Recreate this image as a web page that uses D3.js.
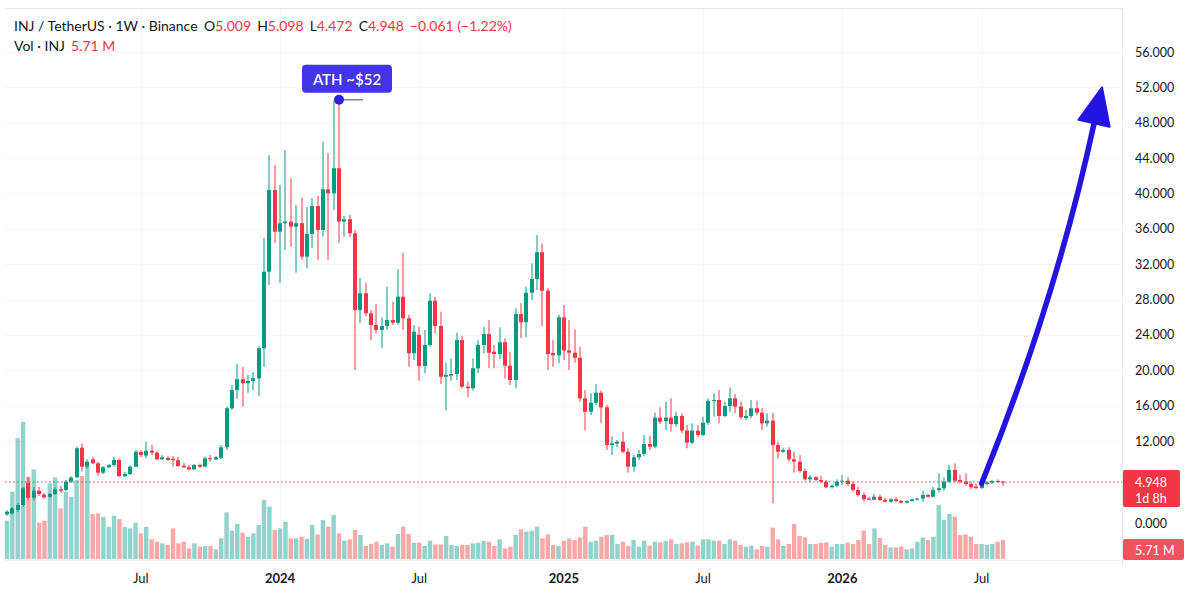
<!DOCTYPE html>
<html>
<head>
<meta charset="utf-8">
<script src="https://cdn.jsdelivr.net/npm/d3@7"></script>
<style>
  html, body { margin: 0; padding: 0; background: #fff; }
  svg { display: block; font-family: Lato, "Open Sans", sans-serif; }
</style>
</head>
<body>
<svg id="chart" width="1200" height="607"></svg>
<script>
// weekly INJ/USDT candles, first bar = week of 9 Jan 2023
const opens = [
  1.05, 1.17, 1.57, 2.17, 4.83, 3.05, 3.90, 3.42, 3.17, 3.50,
  4.07, 3.98, 5.00, 5.76, 10.85, 7.58, 8.85, 8.16, 6.55, 7.48,
  7.87, 8.73, 5.93, 6.32, 7.58, 10.10, 9.50, 10.33, 9.99, 8.85,
  9.08, 8.90, 8.70, 7.75, 7.48, 7.13, 7.87, 7.58, 9.05, 8.85,
  9.10, 10.92, 15.70, 17.77, 18.98, 18.53, 18.80, 19.09, 22.49, 31.15,
  40.39, 35.68, 36.63, 36.81, 36.24, 36.63, 32.85, 35.42, 38.58, 35.87,
  40.47, 40.02, 42.85, 36.81, 37.08, 35.50, 26.82, 28.71, 26.45, 25.12,
  24.56, 25.01, 25.69, 25.38, 28.32, 25.88, 21.92, 24.00, 20.48, 22.86,
  27.87, 25.01, 19.27, 19.40, 19.58, 23.42, 18.14, 17.96, 20.22, 22.86,
  24.10, 22.10, 21.84, 23.17, 20.52, 18.90, 26.37, 25.43, 28.78, 30.33,
  33.35, 29.00, 21.95, 21.70, 25.99, 22.25, 21.99, 21.42, 16.83, 15.31,
  16.33, 17.46, 15.81, 11.31, 11.55, 11.88, 10.16, 7.58, 9.20, 9.76,
  11.48, 11.02, 14.64, 14.25, 14.64, 13.92, 14.83, 13.17, 11.71, 13.17,
  12.68, 14.07, 16.52, 16.64, 14.83, 15.96, 16.83, 15.88, 14.60, 14.83,
  15.70, 15.20, 14.00, 14.30, 11.31, 10.16, 10.45, 8.85, 8.44, 6.84,
  5.41, 5.76, 5.29, 5.00, 4.31, 4.50, 5.00, 5.17, 4.71, 3.98,
  3.38, 2.95, 2.80, 3.17, 2.78, 2.57, 2.86, 2.65, 2.45, 2.65,
  2.86, 2.95, 3.38, 3.17, 3.98, 4.19, 5.00, 7.01, 5.30, 5.05,
  4.71, 4.40, 4.22, 4.70, 4.90, 5.12, 5.009
]
const highs = [
  1.57, 1.93, 2.41, 4.34, 5.81, 4.34, 4.34, 3.62, 3.62, 4.34,
  4.47, 5.29, 5.98, 11.02, 11.60, 8.85, 9.30, 8.44, 7.70, 8.04,
  9.30, 9.02, 6.67, 7.80, 10.45, 10.45, 11.88, 11.31, 10.28, 9.59,
  9.42, 9.42, 9.25, 8.22, 7.87, 8.04, 8.13, 9.25, 9.59, 9.42,
  11.31, 15.88, 18.33, 20.71, 20.37, 19.47, 19.81, 22.75, 34.96, 44.35,
  43.22, 40.96, 44.92, 41.75, 38.70, 39.49, 38.50, 39.49, 39.72, 45.86,
  44.58, 50.50, 50.60, 37.45, 37.57, 35.87, 30.44, 29.91, 26.82, 27.50,
  25.99, 29.46, 27.76, 31.42, 33.30, 26.25, 25.12, 24.93, 24.56, 28.71,
  28.32, 26.63, 20.86, 21.35, 24.25, 23.88, 18.71, 21.35, 23.42, 24.93,
  25.69, 22.86, 24.86, 23.62, 22.10, 27.01, 27.58, 29.46, 32.10, 35.30,
  34.36, 29.27, 23.42, 26.25, 27.38, 25.69, 24.64, 22.67, 17.77, 17.40,
  18.45, 17.69, 16.07, 12.49, 12.11, 13.05, 10.74, 9.59, 10.45, 12.68,
  12.57, 15.20, 15.81, 16.45, 16.83, 15.31, 15.13, 13.81, 14.00, 13.81,
  14.75, 16.83, 17.40, 17.77, 16.45, 18.07, 17.32, 16.45, 15.51, 16.64,
  16.56, 15.70, 15.13, 15.20, 11.88, 10.80, 10.92, 10.16, 9.59, 7.30,
  6.15, 5.98, 5.98, 5.29, 4.65, 5.41, 6.15, 5.76, 5.00, 4.38,
  3.66, 3.14, 3.50, 3.44, 3.02, 2.98, 3.10, 2.78, 2.75, 2.95,
  3.05, 3.90, 3.50, 4.38, 6.44, 5.76, 7.87, 8.16, 6.15, 6.44,
  5.00, 4.79, 4.95, 5.10, 5.30, 5.40, 5.098
]
const lows = [
  0.84, 0.97, 1.33, 1.93, 2.78, 2.78, 3.26, 2.90, 3.02, 3.38,
  3.62, 3.86, 4.83, 5.58, 6.72, 7.30, 8.04, 5.98, 6.32, 7.36,
  7.58, 5.76, 5.76, 6.15, 7.48, 9.25, 9.08, 9.59, 8.73, 8.73,
  8.56, 7.58, 7.53, 7.30, 6.93, 7.01, 7.36, 7.53, 8.44, 8.73,
  8.90, 10.45, 15.51, 16.75, 15.88, 17.43, 17.77, 17.09, 20.37, 29.65,
  34.40, 29.87, 33.61, 33.98, 31.04, 32.48, 31.54, 33.83, 32.48, 35.11,
  32.48, 38.13, 34.40, 35.08, 35.08, 20.03, 25.35, 26.14, 23.42, 24.18,
  22.49, 24.56, 25.12, 25.12, 24.56, 20.40, 21.16, 18.82, 19.66, 22.67,
  24.18, 18.45, 15.51, 18.82, 18.90, 17.96, 16.94, 17.69, 19.66, 21.92,
  20.22, 20.22, 21.24, 19.09, 18.33, 17.96, 23.62, 23.73, 27.95, 29.08,
  25.01, 20.03, 20.40, 20.79, 21.16, 20.03, 20.86, 16.45, 13.24, 14.94,
  16.07, 14.00, 10.45, 9.59, 10.97, 9.88, 6.55, 6.72, 8.73, 9.42,
  10.45, 10.74, 13.92, 13.24, 13.05, 13.62, 12.87, 10.74, 11.48, 12.49,
  12.57, 13.81, 14.75, 14.00, 14.70, 15.31, 15.13, 14.45, 14.38, 14.57,
  14.94, 13.24, 13.62, 2.38, 9.02, 9.94, 8.44, 6.55, 6.55, 5.17,
  5.00, 5.12, 4.79, 4.22, 4.16, 4.31, 4.59, 4.47, 3.78, 3.17,
  2.57, 2.72, 2.78, 2.69, 2.47, 2.45, 2.50, 2.35, 2.35, 2.57,
  2.70, 2.57, 3.05, 3.10, 3.66, 3.90, 4.86, 4.86, 4.79, 4.47,
  4.07, 4.07, 4.10, 4.55, 4.70, 4.85, 4.472
]
const closes = [
  1.36, 1.77, 2.17, 4.20, 3.05, 3.90, 3.50, 3.10, 3.50, 4.07,
  3.90, 5.00, 5.69, 10.74, 7.58, 8.44, 8.16, 6.55, 7.48, 7.87,
  8.73, 5.98, 6.32, 7.58, 10.16, 9.59, 10.33, 9.99, 8.85, 9.20,
  8.73, 8.70, 7.70, 7.48, 7.13, 7.87, 7.58, 9.02, 8.85, 9.20,
  10.92, 15.70, 17.77, 18.98, 18.53, 18.80, 19.09, 22.49, 31.15, 40.39,
  35.68, 36.63, 36.81, 36.24, 36.63, 32.85, 35.42, 38.58, 35.87, 40.47,
  40.02, 42.85, 36.81, 37.08, 35.50, 26.82, 28.71, 26.45, 25.12, 24.56,
  25.01, 25.69, 25.38, 28.32, 25.88, 21.92, 24.36, 20.48, 22.86, 27.87,
  25.01, 19.27, 19.47, 19.58, 23.42, 18.14, 17.96, 20.22, 22.86, 24.10,
  21.99, 21.84, 23.17, 20.52, 18.90, 26.37, 25.43, 28.78, 30.33, 33.35,
  29.00, 21.84, 21.70, 25.99, 22.22, 21.99, 21.42, 16.83, 15.31, 16.33,
  17.46, 15.81, 11.31, 11.60, 11.88, 10.16, 7.58, 9.20, 9.76, 11.48,
  11.02, 14.64, 14.18, 14.64, 13.92, 14.83, 13.17, 11.71, 13.17, 12.68,
  14.07, 16.52, 16.64, 14.83, 15.96, 16.83, 15.88, 14.68, 14.83, 15.70,
  15.20, 14.00, 14.30, 11.31, 10.16, 10.45, 8.85, 8.44, 6.84, 5.41,
  5.76, 5.29, 5.00, 4.31, 4.50, 5.00, 5.17, 4.71, 3.98, 3.38,
  2.86, 2.80, 3.17, 2.78, 2.57, 2.86, 2.65, 2.45, 2.65, 2.86,
  2.95, 3.38, 3.17, 3.98, 4.19, 5.00, 7.01, 5.17, 5.00, 4.71,
  4.31, 4.22, 4.70, 4.90, 5.12, 5.009, 4.948
]
// volume in millions of INJ
const volumes = [
  11.5, 20.2, 36.3, 41.2, 24.7, 26.9, 10.9, 11.5, 22.7, 24.5,
  15.2, 20.2, 18.7, 23.7, 24.9, 27.7, 13.5, 13.7, 12.7, 9.7,
  13.0, 12.0, 9.6, 9.2, 10.9, 7.7, 9.7, 5.9, 5.2, 4.7,
  4.2, 9.2, 4.7, 5.2, 3.2, 4.7, 3.7, 3.9, 3.9, 2.9,
  6.2, 14.0, 8.5, 10.5, 7.9, 6.7, 7.7, 10.2, 17.7, 15.7,
  8.7, 9.2, 11.2, 6.2, 6.2, 6.7, 6.0, 10.2, 7.4, 11.7,
  9.7, 13.2, 7.7, 5.5, 5.9, 8.7, 7.2, 3.9, 4.5, 5.2,
  4.2, 4.7, 3.7, 7.5, 9.7, 7.5, 4.9, 4.9, 3.9, 5.5,
  4.4, 4.4, 6.9, 4.2, 3.9, 4.2, 4.2, 4.7, 4.9, 5.4,
  5.2, 3.9, 5.9, 3.2, 3.7, 7.2, 8.9, 8.2, 8.5, 9.7,
  6.2, 7.4, 4.2, 3.9, 5.5, 6.2, 5.7, 6.5, 9.7, 5.2,
  5.5, 6.7, 7.2, 7.2, 4.5, 5.2, 3.9, 5.7, 3.7, 5.5,
  4.0, 5.2, 5.0, 5.4, 5.9, 4.5, 4.7, 5.0, 5.2, 4.0,
  5.9, 5.9, 5.5, 5.5, 4.5, 5.9, 5.5, 4.2, 3.7, 4.0,
  2.9, 3.9, 3.7, 9.4, 5.9, 3.9, 4.5, 10.5, 6.9, 6.5,
  4.5, 4.5, 4.9, 5.0, 3.7, 4.5, 4.5, 4.9, 4.5, 5.7,
  8.5, 4.5, 9.2, 6.3, 4.2, 3.5, 3.5, 3.7, 2.9, 3.2,
  5.2, 6.4, 5.7, 6.7, 16.2, 11.7, 13.5, 12.7, 7.2, 7.4,
  6.7, 4.5, 4.5, 4.3, 4.5, 5.2, 5.71
]
const yTicks = [0, 12, 16, 20, 24, 28, 32, 36, 40, 44, 48, 52, 56]
const athLabel = "ATH ~$52"
const targetPrice = 52

const width = 1200
const height = 607
const paneLeft = 5
const paneTop = 8
const paneRight = 1122
const paneBottom = 559
const upColor = "#089981"
const downColor = "#f23645"
const textColor = "#131722"

const n = closes.length
const startDate = new Date(Date.UTC(2023, 0, 9))
const dates = d3.range(n).map(i => d3.utcDay.offset(startDate, i * 7))
const last = n - 1
const lastClose = closes[last]

const x = d3.scaleLinear()
    .domain([0, last])
    .range([7, 1003])

// price axis of the screenshot is not uniform below 12, so piecewise
const y = d3.scaleLinear()
    .domain([0, lastClose, 12, 56])
    .range([523, 482, 441, 52])

const yVol = d3.scaleLinear()
    .domain([0, 40])
    .range([paneBottom, paneBottom - 133.2])

const step = x(1) - x(0)
const bodyW = 4
const volW = step * 0.82

const svg = d3.select("#chart")

// grid
const xTicks = d3.range(1, n).filter(i => {
    const m = dates[i].getUTCMonth()
    return m !== dates[i - 1].getUTCMonth() && m % 6 === 0
})
const grid = svg.append("g")
grid.selectAll(".hg")
    .data(yTicks.filter(d => d > 0))
    .join("line")
    .attr("x1", paneLeft).attr("x2", paneRight)
    .attr("y1", d => Math.round(y(d)) + 0.5).attr("y2", d => Math.round(y(d)) + 0.5)
    .attr("stroke", "#f6f7f9")
grid.selectAll(".vg")
    .data(xTicks)
    .join("line")
    .attr("x1", i => Math.round(x(i)) + 0.5).attr("x2", i => Math.round(x(i)) + 0.5)
    .attr("y1", paneTop).attr("y2", paneBottom)
    .attr("stroke", "#f6f7f9")

// pane frame
svg.append("line")
    .attr("x1", paneLeft).attr("x2", paneRight)
    .attr("y1", paneTop + 0.5).attr("y2", paneTop + 0.5)
    .attr("stroke", "#e6e8ee")
svg.append("line")
    .attr("x1", paneRight + 0.5).attr("x2", paneRight + 0.5)
    .attr("y1", paneTop).attr("y2", 566)
    .attr("stroke", "#e6e8ee")
svg.append("line")
    .attr("x1", paneLeft).attr("x2", paneRight)
    .attr("y1", paneBottom + 1.5).attr("y2", paneBottom + 1.5)
    .attr("stroke", "#eceef2")

// volume
svg.append("g")
    .selectAll("rect")
    .data(d3.range(n))
    .join("rect")
    .attr("x", i => x(i) - volW / 2)
    .attr("y", i => yVol(volumes[i]))
    .attr("width", volW)
    .attr("height", i => paneBottom - yVol(volumes[i]))
    .attr("fill", i => closes[i] >= opens[i] ? "#26a69a" : "#ef5350")
    .attr("fill-opacity", 0.5)

// last price line
svg.append("line")
    .attr("x1", paneLeft).attr("x2", paneRight)
    .attr("y1", y(lastClose)).attr("y2", y(lastClose))
    .attr("stroke", downColor)
    .attr("stroke-width", 1)
    .attr("stroke-dasharray", "1.5,2.5")

// candles
const candles = svg.append("g")
const colorOf = i => closes[i] >= opens[i] ? upColor : downColor
candles.selectAll("line")
    .data(d3.range(n))
    .join("line")
    .attr("x1", i => Math.round(x(i) - bodyW / 2) + bodyW / 2)
    .attr("x2", i => Math.round(x(i) - bodyW / 2) + bodyW / 2)
    .attr("y1", i => y(highs[i]))
    .attr("y2", i => y(lows[i]))
    .attr("stroke", colorOf)
    .attr("stroke-width", 1)
candles.selectAll("rect")
    .data(d3.range(n))
    .join("rect")
    .attr("x", i => Math.round(x(i) - bodyW / 2))
    .attr("y", i => y(Math.max(opens[i], closes[i])))
    .attr("width", bodyW)
    .attr("height", i => Math.max(1, Math.abs(y(opens[i]) - y(closes[i]))))
    .attr("fill", colorOf)

// ATH marker
const athIndex = d3.maxIndex(highs)
const athX = x(athIndex)
const athY = y(highs[athIndex])
svg.append("line")
    .attr("x1", athX).attr("x2", athX + 24)
    .attr("y1", athY).attr("y2", athY)
    .attr("stroke", "#7d76f2")
    .attr("stroke-width", 1.5)
svg.append("circle")
    .attr("cx", athX).attr("cy", athY)
    .attr("r", 5)
    .attr("fill", "#2c20e4")
svg.append("rect")
    .attr("x", athX + 8 - 45).attr("y", athY - 35)
    .attr("width", 90).attr("height", 28)
    .attr("rx", 4)
    .attr("fill", "#4334e8")
svg.append("text")
    .attr("x", athX + 8).attr("y", athY - 21)
    .attr("text-anchor", "middle")
    .attr("dominant-baseline", "central")
    .attr("fill", "#fff")
    .style("font-size", "15px")
    .style("font-weight", 600)
    .text(athLabel)

// projection arrow towards the ATH level
const arrowStart = [x(182), y(closes[182]) - 0.5]
const tip = [x(last + 18.5), y(targetPrice)]
const base = [tip[0] - 8, tip[1] + 36]
const ctrl = [1056, 300]
const dir = [tip[0] - base[0], tip[1] - base[1]]
const len = Math.hypot(dir[0], dir[1])
const perp = [-dir[1] / len, dir[0] / len]
svg.append("path")
    .attr("d", `M${arrowStart[0]},${arrowStart[1]} Q${ctrl[0]},${ctrl[1]} ${base[0]},${base[1]}`)
    .attr("fill", "none")
    .attr("stroke", "#2314e2")
    .attr("stroke-width", 5.5)
    .attr("stroke-linecap", "round")
svg.append("path")
    .attr("d", `M${tip[0]},${tip[1]} L${base[0] + perp[0] * 16},${base[1] + perp[1] * 16} L${base[0] - perp[0] * 16},${base[1] - perp[1] * 16} Z`)
    .attr("fill", "#2314e2")
    .attr("stroke", "#2314e2")
    .attr("stroke-linejoin", "round")
    .attr("stroke-width", 2)

// price axis
const fmt = d3.format(".3f")
svg.append("g")
    .selectAll("text")
    .data(yTicks)
    .join("text")
    .attr("x", 1135)
    .attr("y", d => y(d))
    .attr("dominant-baseline", "central")
    .attr("fill", textColor)
    .style("font-size", "12.5px")
    .text(d => fmt(d))

// last price badge
const py = y(lastClose)
svg.append("rect")
    .attr("x", paneRight + 1).attr("y", py - 12)
    .attr("width", 57).attr("height", 37)
    .attr("rx", 2)
    .attr("fill", downColor)
svg.append("text")
    .attr("x", 1135).attr("y", py)
    .attr("dominant-baseline", "central")
    .attr("fill", "#fff")
    .style("font-size", "12.5px")
    .text(fmt(lastClose))
svg.append("text")
    .attr("x", 1135).attr("y", py + 16.5)
    .attr("dominant-baseline", "central")
    .attr("fill", "#fff")
    .style("font-size", "12.5px")
    .text("1d 8h")

// volume badge
svg.append("rect")
    .attr("x", paneRight + 1).attr("y", 539)
    .attr("width", 61).attr("height", 21)
    .attr("rx", 2)
    .attr("fill", "#f2545f")
svg.append("text")
    .attr("x", 1135).attr("y", 550)
    .attr("dominant-baseline", "central")
    .attr("fill", "#fff")
    .style("font-size", "12.5px")
    .text(`${d3.format(".2f")(volumes[last])} M`)

// time axis
svg.append("g")
    .selectAll("text")
    .data(xTicks)
    .join("text")
    .attr("x", i => x(i))
    .attr("y", 578)
    .attr("text-anchor", "middle")
    .attr("dominant-baseline", "central")
    .attr("fill", textColor)
    .style("font-size", "13px")
    .style("font-weight", i => dates[i].getUTCMonth() === 0 ? 700 : 400)
    .text(i => dates[i].getUTCMonth() === 0 ? d3.utcFormat("%Y")(dates[i]) : d3.utcFormat("%b")(dates[i]))

// legend
const o = opens[last], h = highs[last], l = lows[last], c = closes[last]
const chg = c - o
const signed = (v, digits) => (v < 0 ? "\u2212" : "+") + Math.abs(v).toFixed(digits)
const head = svg.append("text")
    .attr("x", 14).attr("y", 31)
    .attr("fill", textColor)
    .style("font-size", "14px")
head.append("tspan").text("INJ / TetherUS · 1W · Binance ")
head.append("tspan").attr("dx", 3).text("O")
head.append("tspan").attr("fill", downColor).text(fmt(o))
head.append("tspan").attr("dx", 6).text("H")
head.append("tspan").attr("fill", downColor).text(fmt(h))
head.append("tspan").attr("dx", 6).text("L")
head.append("tspan").attr("fill", downColor).text(fmt(l))
head.append("tspan").attr("dx", 6).text("C")
head.append("tspan").attr("fill", downColor).text(fmt(c))
head.append("tspan").attr("dx", 6).attr("fill", downColor)
    .text(`${signed(chg, 3)} (${signed(chg / o * 100, 2)}%)`)

const volHead = svg.append("text")
    .attr("x", 14).attr("y", 51)
    .attr("fill", textColor)
    .style("font-size", "14px")
volHead.append("tspan").text("Vol · INJ")
volHead.append("tspan").attr("dx", 6).attr("fill", downColor).text(`${d3.format(".2f")(volumes[last])} M`)
</script>
</body>
</html>
